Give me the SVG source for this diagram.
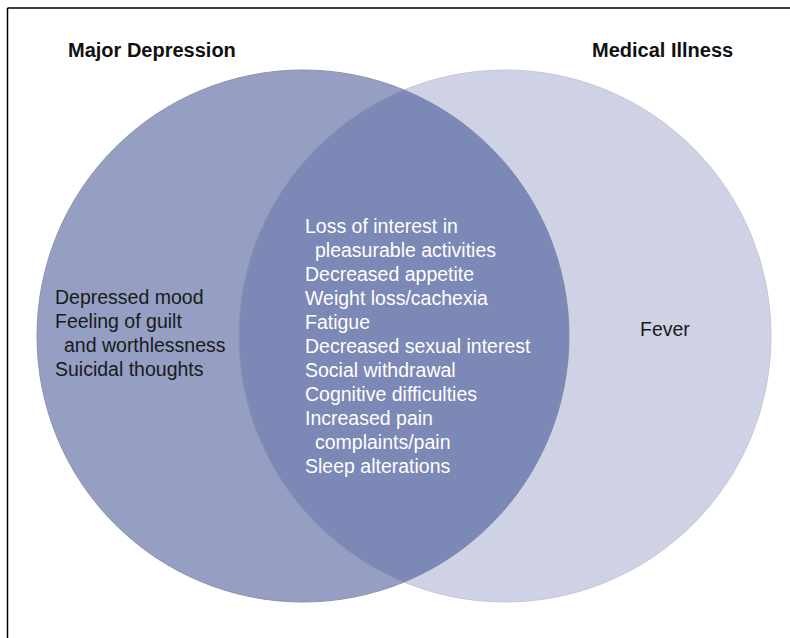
<svg xmlns="http://www.w3.org/2000/svg" width="790" height="638" viewBox="0 0 790 638">
<style>
.title{font-family:"Liberation Sans",Arial,sans-serif;font-weight:bold;font-size:20px;fill:#111}
.body{font-family:"Liberation Sans",Arial,sans-serif;font-size:19.5px}
.dark{fill:#1a1a1a}
.light{fill:#ffffff}
</style>
<defs>
<clipPath id="clipLeft"><circle cx="303" cy="336" r="266"/></clipPath>
</defs>
<rect width="790" height="638" fill="#ffffff"/>
<g id="frame" stroke="#000" stroke-width="1.5" fill="none">
<line x1="7.5" y1="8" x2="790" y2="8"/>
<line x1="7.5" y1="8" x2="7.5" y2="638"/>
</g>
<g id="medical-illness">
<circle cx="505" cy="336" r="266" fill="#cfd2e4" stroke="#c4c7d8" stroke-width="1"/>
<text class="title" x="592" y="57">Medical Illness</text>
<text class="body dark" x="640" y="336">Fever</text>
</g>
<g id="major-depression">
<circle cx="303" cy="336" r="266" fill="#959fc3" stroke="#8e93a8" stroke-width="1"/>
<text class="title" x="68" y="57">Major Depression</text>
<text class="body dark" x="55" y="304">Depressed mood</text>
<text class="body dark" x="55" y="328">Feeling of guilt</text>
<text class="body dark" x="64" y="352">and worthlessness</text>
<text class="body dark" x="55" y="376">Suicidal thoughts</text>
</g>
<g id="overlap">
<circle cx="505" cy="336" r="266" fill="#7c88b5" clip-path="url(#clipLeft)" stroke="#8e93a8" stroke-width="1"/>
<text class="body light" x="305" y="233">Loss of interest in</text>
<text class="body light" x="315" y="257">pleasurable activities</text>
<text class="body light" x="305" y="281">Decreased appetite</text>
<text class="body light" x="305" y="305">Weight loss/cachexia</text>
<text class="body light" x="305" y="329">Fatigue</text>
<text class="body light" x="305" y="353">Decreased sexual interest</text>
<text class="body light" x="305" y="377">Social withdrawal</text>
<text class="body light" x="305" y="401">Cognitive difficulties</text>
<text class="body light" x="305" y="425">Increased pain</text>
<text class="body light" x="315" y="449">complaints/pain</text>
<text class="body light" x="305" y="473">Sleep alterations</text>
</g>
</svg>
